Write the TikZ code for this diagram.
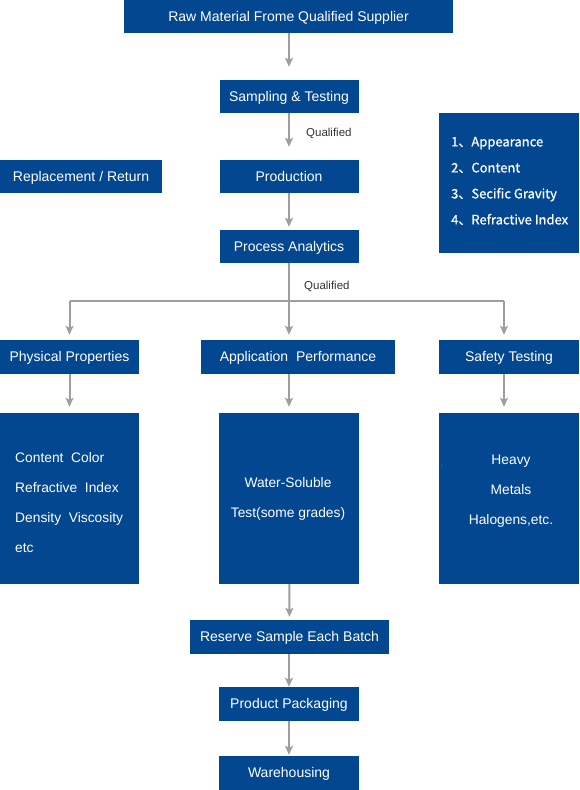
\documentclass[tikz,border=0pt]{standalone}
\usepackage{fontspec}
\setmainfont{Liberation Sans}
\newfontfamily\cjkfont[FakeBold=0.8]{Noto Sans CJK SC}
\usetikzlibrary{arrows.meta}
\definecolor{boxblue}{RGB}{2,71,143}
\definecolor{arrgray}{RGB}{158,158,158}
\tikzset{>={Stealth[length=9pt,width=8pt,inset=2pt]}}
\tikzset{
  box/.style={fill=boxblue, text=white, inner sep=0, minimum height=33pt, text height=11pt, text depth=1.5pt, font=\fontsize{14}{16}\selectfont},
  boxtext/.style={text=white, inner sep=0, font=\fontsize{13.8}{30}\selectfont},
  arr/.style={->, draw=arrgray, line width=2pt},
  note/.style={text=black!80, inner sep=0, anchor=west, font=\fontsize{11.5}{13}\selectfont}
}

\begin{document}
\begin{tikzpicture}[x=1pt, y=-1pt]
  \useasboundingbox (0,0) rectangle (579,790);
  % main column
  \node (raw) at (288.5,16.5) [box, minimum width=329pt] {Raw Material Frome Qualified Supplier};
  \node (samp) at (289,96.5) [box, minimum width=139pt] {Sampling \& Testing};
  \node (prod) at (289,176.5) [box, minimum width=139pt] {Production};
  \node (repl) at (81,176.5) [box, minimum width=162pt] {Replacement / Return};
  \node (proc) at (289,246.5) [box, minimum width=139pt] {Process Analytics};
  % test items
  \node (list) at (509,183) [box, minimum width=140pt, minimum height=140pt] {};
  \node (items) at (451,181) [anchor=west, text=white, inner sep=0, align=left, font=\cjkfont\fontsize{13}{26}\selectfont] {1、Appearance\\2、Content\\3、Secific Gravity\\4、Refractive Index};
  % three branches
  \node (phys) at (69.5,357) [box, minimum width=139pt, minimum height=34pt] {Physical Properties};
  \node (appl) at (298,357) [box, minimum width=194pt, minimum height=34pt] {Application~ Performance};
  \node (safe) at (509,357) [box, minimum width=140pt, minimum height=34pt] {Safety Testing};
  \node (physd) at (69.5,498.5) [box, minimum width=139pt, minimum height=171pt] {};
  \node (appld) at (289,498.5) [box, minimum width=140pt, minimum height=171pt] {};
  \node (safed) at (509,498.5) [box, minimum width=140pt, minimum height=171pt] {};
  \node (physt) at (15,503) [boxtext, anchor=west, align=left] {Content~ Color\\Refractive~ Index\\Density~ Viscosity\\etc};
  \node (applt) at (288,499) [boxtext, align=center] {Water-Soluble\\Test(some grades)};
  \node (safet) at (511,491) [boxtext, align=center] {Heavy\\Metals\\Halogens,etc.};
  \node (dots) at (442,466) [text=white!70!boxblue, inner sep=0, font=\fontsize{6}{6}\selectfont] {:};
  % end of line
  \node (resv) at (289.5,637) [box, minimum width=199pt, minimum height=34pt] {Reserve Sample Each Batch};
  \node (pack) at (289,704) [box, minimum width=140pt, minimum height=34pt] {Product Packaging};
  \node (ware) at (289,773) [box, minimum width=140pt, minimum height=34pt] {Warehousing};
  % labels
  \node (q1) at (306,133) [note] {Qualified};
  \node (q2) at (304,286) [note] {Qualified};
  % arrows
  \coordinate (split) at (289,301);
  \coordinate (cl) at (69.5,301);
  \coordinate (cr) at (504,301);
  \draw[arr, shorten >=13pt] (raw.south -| samp) -- (samp.north);
  \draw[arr, shorten >=13pt] (samp) -- (prod);
  \draw[arr, shorten >=3pt] (prod) -- (proc);
  \draw[draw=arrgray, line width=2pt] (proc.south) -- (split);
  \draw[draw=arrgray, line width=2pt] (cl) -- (cr);
  \draw[arr, shorten >=5pt] (split) -- (split |- appl.north);
  \draw[arr, shorten >=5pt] (cl) -- (phys.north);
  \draw[arr, shorten >=5pt] (cr) -- (cr |- safe.north);
  \draw[arr, shorten >=6pt] (phys.south) -- (physd.north);
  \draw[arr, shorten >=6pt] (split |- appl.south) -- (split |- appld.north);
  \draw[arr, shorten >=6pt] (cr |- safe.south) -- (cr |- safed.north);
  \draw[arr, shorten >=3pt] (appld) -- (resv);
  \draw[arr] (resv.south -| pack) -- (pack.north);
  \draw[arr, shorten >=1pt] (pack) -- (ware);
\end{tikzpicture}
\end{document}
